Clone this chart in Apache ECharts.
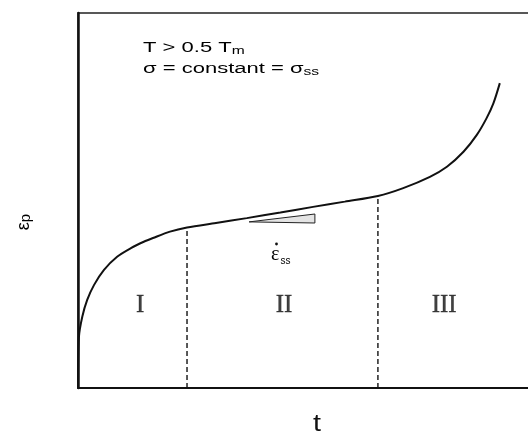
<!DOCTYPE html>
<html>
<head>
<meta charset="utf-8">
<script src="https://cdn.jsdelivr.net/npm/echarts@6/dist/echarts.min.js"></script>
<style>
  html, body { margin: 0; padding: 0; background: #fff; }
  #chart { width: 528px; height: 435px; }
</style>
</head>
<body>
<div id="chart"></div>
<script>
// Creep curve: plastic strain vs. time (arbitrary units, 0..100 on both axes)
const creepTime   = [0, 0.2, 0.93, 2.0, 3.5, 5.65, 8.5, 11.5, 14.3, 16.3, 20.0, 23.7, 30.0, 36.7, 44.0, 51.1, 58.0, 65.2, 70.7, 76.5, 80.2, 83.8, 86.7, 88.8, 90.3, 91.7];
const creepStrain = [0, 13.6, 19.0, 23.5, 27.5, 31.5, 35.0, 37.3, 39.0, 40.0, 41.7, 42.8, 44.0, 45.3, 46.8, 48.3, 49.7, 51.2, 53.3, 56.3, 59.0, 63.0, 67.5, 71.9, 75.9, 81.3];

// Stage boundaries (primary/secondary, secondary/tertiary)
const stageBoundaryTime   = [23.7, 65.2];
const stageBoundaryStrain = [42.8, 51.2];

// Steady-state slope wedge
const wedgeTime   = [37.2, 51.5, 51.5];
const wedgeStrain = [44.3, 46.4, 44.0];

// Stage names
const stageNames = ['I', 'II', 'III'];
const stageNameTime = [13.5, 44.8, 79.6];
const stageNameStrain = [22.1, 22.1, 22.1];

const chart = echarts.init(document.getElementById('chart'), null, { renderer: 'canvas' });

const curveData = creepTime.map((t, i) => [t, creepStrain[i]]);
const boundarySeries = stageBoundaryTime.map((t, i) => ({
  type: 'line',
  data: [[t, 0], [t, stageBoundaryStrain[i]]],
  symbol: 'none',
  silent: true,
  lineStyle: { color: '#111', width: 1.4, type: [5, 3] },
  z: 2
}));

const ink = '#111';
const sans = (size, extra) => Object.assign({
  fontFamily: 'Liberation Sans', fontSize: size, color: ink
}, extra || {});

chart.setOption({
  animation: false,
  backgroundColor: '#fff',
  grid: {
    left: 78, top: 13, right: -10, bottom: 47,
    outerBoundsMode: 'none',
    containLabel: false,
    show: true, borderColor: '#222', borderWidth: 1.5
  },
  xAxis: {
    type: 'value', min: 0, max: 100,
    axisLine: { show: true, onZero: false, lineStyle: { color: ink, width: 2 } },
    axisTick: { show: false }, axisLabel: { show: false }, splitLine: { show: false }
  },
  yAxis: {
    type: 'value', min: 0, max: 100,
    axisLine: { show: true, onZero: false, lineStyle: { color: ink, width: 2.5 } },
    axisTick: { show: false }, axisLabel: { show: false }, splitLine: { show: false }
  },
  series: [
    {
      type: 'line',
      data: curveData,
      symbol: 'none',
      smooth: 0.3,
      lineStyle: { color: ink, width: 2 },
      z: 3
    },
    ...boundarySeries,
    {
      type: 'custom',
      data: [0],
      silent: true,
      renderItem: function (params, api) {
        const pts = wedgeTime.map((t, i) => api.coord([t, wedgeStrain[i]]));
        return {
          type: 'polygon',
          shape: { points: pts },
          style: { fill: '#e4e4e4', stroke: '#222', lineWidth: 1 }
        };
      },
      z: 2
    },
    {
      type: 'scatter',
      data: stageNames.map((n, i) => [stageNameTime[i], stageNameStrain[i], n]),
      symbolSize: 0,
      silent: true,
      label: {
        show: true, position: 'inside',
        formatter: p => p.value[2],
        fontFamily: 'Liberation Serif', fontSize: 25, color: ink,
        textBorderColor: ink, textBorderWidth: 0.4
      }
    }
  ],
  graphic: [
    // test conditions
    {
      type: 'text', x: 143, y: 37, scaleX: 1.42,
      style: {
        text: '{a|T > 0.5 T}{s|m}\n{a|σ = constant = σ}{s|ss}',
        rich: {
          a: sans(15.5, { lineHeight: 21 }),
          s: sans(11, { padding: [6, 0, 0, 0], lineHeight: 21 })
        }
      }
    },
    // steady-state creep rate
    {
      type: 'text', x: 271, y: 244,
      style: {
        text: '{e|ε}{s|ss}',
        rich: {
          e: { fontFamily: 'Liberation Serif', fontSize: 20, color: ink },
          s: sans(10, { padding: [12, 0, 0, 1] })
        }
      }
    },
    {
      type: 'circle', shape: { cx: 276.5, cy: 244, r: 1.4 },
      style: { fill: ink }
    },
    // axis titles
    {
      type: 'text', x: 317, y: 424, scaleX: 1.2,
      style: { text: 't', align: 'center', verticalAlign: 'middle', fontFamily: 'Liberation Sans', fontSize: 24, fill: ink }
    },
    {
      type: 'text', x: 24, y: 222, rotation: Math.PI / 2,
      style: {
        text: '{e|ε}{p|p}', align: 'center', verticalAlign: 'middle',
        rich: {
          e: sans(18),
          p: sans(15, { padding: [3, 0, 0, 0] })
        }
      }
    }
  ]
});
</script>
</body>
</html>
